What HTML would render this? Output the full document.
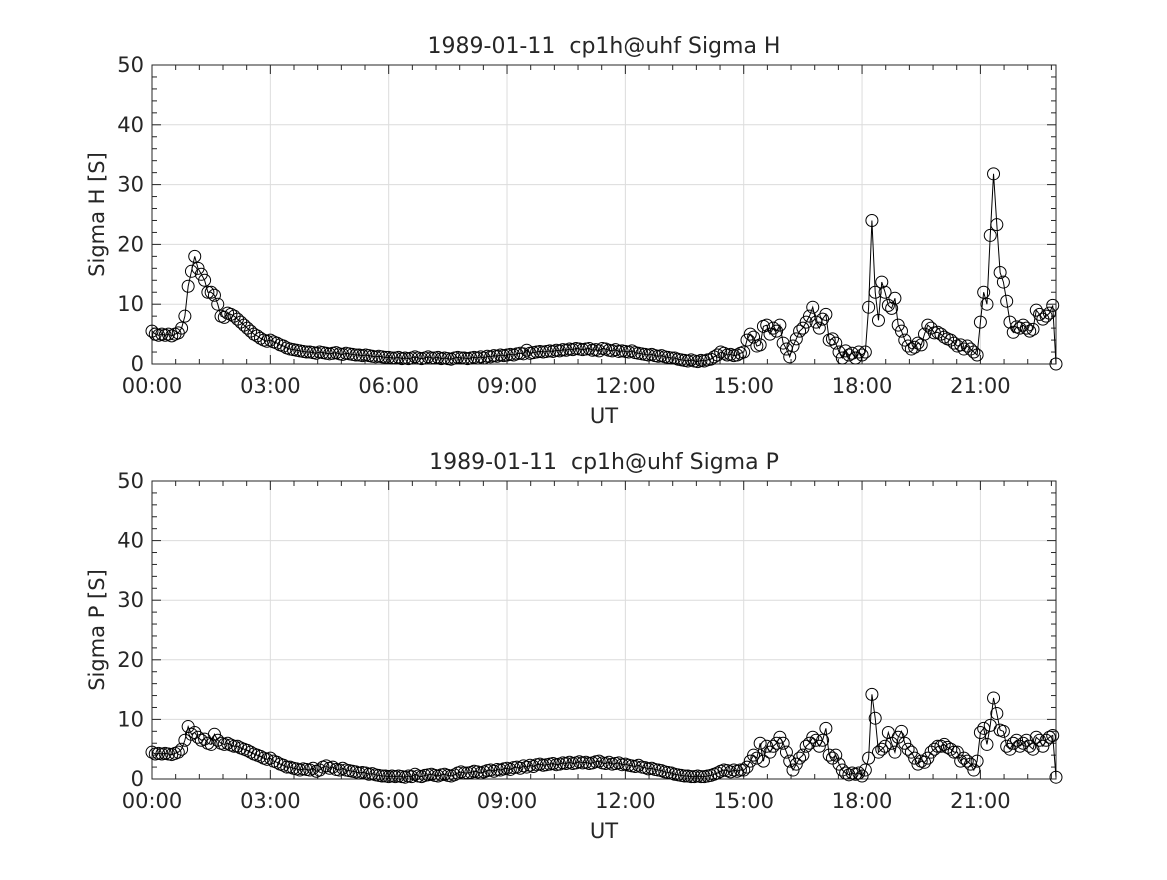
<!DOCTYPE html>
<html><head><meta charset="utf-8"><style>
html,body{margin:0;padding:0;background:#fff}
svg text{font-family:"DejaVu Sans","Liberation Sans",sans-serif;fill:#262626}
</style></head><body>
<svg id="svg" width="1167" height="875" xmlns="http://www.w3.org/2000/svg"></svg>
<script>
const sigmaH = [
5.5,5,4.8,5,4.8,5,4.7,5,5.2,6,8,13,
15.5,18,16,15,14,12,12,11.5,10,8,7.8,8.5,
8.3,8,7.5,7,6.5,6,5.5,5,4.7,4.3,4,3.8,
4,3.7,3.5,3.2,3,2.7,2.5,2.4,2.3,2.2,2.1,2,
2,1.9,1.8,2,1.9,1.8,1.7,1.8,1.9,1.7,1.6,1.8,
1.7,1.6,1.5,1.5,1.4,1.5,1.4,1.3,1.2,1.3,1.2,1.1,
1.1,1,1,1.1,0.9,1,0.9,1,1.2,1,0.9,1,
1.2,1,1,1.1,0.9,1,0.9,0.8,1,1.1,1,1,
0.9,1,1.1,1,1.2,1,1.3,1.2,1.4,1.3,1.5,1.4,
1.5,1.6,1.5,1.7,1.8,1.7,2.3,1.8,1.9,2,2.1,2,
2.1,2.2,2.1,2.3,2.2,2.4,2.3,2.5,2.4,2.6,2.5,2.4,
2.5,2.6,2.3,2.4,2.2,2.6,2.5,2.3,2.2,2.4,2.1,2.2,
2.1,2,2.2,1.9,1.8,1.7,1.6,1.5,1.6,1.4,1.3,1.4,
1.2,1.1,1,1,0.8,0.7,0.6,0.5,0.7,0.5,0.4,0.6,
0.5,0.7,0.8,1.2,1.5,2,1.8,1.5,1.6,1.4,1.5,1.8,
2,4,5,4.5,3,3.2,6.3,6.5,5,6,5.5,6.5,
3.5,2.5,1.2,3,4.2,5.5,6,7,8,9.5,7,6,
7.5,8.3,4,4.2,3.5,2,1,2.2,1.5,1.8,1,2,
1.5,2,9.5,24,12,7.3,13.7,12,9.8,9.3,11,6.5,
5.5,4,3,2.5,2.8,3.5,3.2,5,6.5,6,5.2,5.3,
5,4.5,4.2,4,3.5,3,3.2,2.5,3,2.5,2,1.5,
7,12,10,21.5,31.8,23.3,15.3,13.7,10.5,7,5.3,6.2,
6,6.5,6,5.5,5.8,9,8.3,7.5,8,8.5,9.8,0];
const sigmaP = [
4.5,4.2,4.3,4.2,4.3,4.2,4.1,4.3,4.5,5,6.5,8.8,
7.5,7.8,7,6.5,6.7,6,5.8,7.5,6.5,6,5.8,6,
5.7,5.5,5.5,5.2,5,4.8,4.5,4.2,4,3.8,3.5,3.3,
3.5,3,2.8,2.5,2.3,2,2,1.8,1.7,1.5,1.7,1.6,
1.5,1.8,1.3,1.5,2,2.2,1.8,2,1.6,1.5,1.8,1.5,
1.4,1.3,1.2,1,1.1,1,0.8,0.9,0.7,0.6,0.5,0.5,
0.4,0.5,0.4,0.5,0.4,0.3,0.5,0.4,0.8,0.5,0.4,0.6,
0.7,0.8,0.6,0.5,0.7,0.8,0.6,0.5,0.7,1,1.2,1,
1,1.1,1.3,1.2,1,1.2,1.4,1.5,1.3,1.6,1.5,1.7,
1.8,1.6,1.9,2,1.8,2.2,2,2.3,2.1,2.4,2.5,2.3,
2.4,2.5,2.6,2.4,2.5,2.7,2.6,2.8,2.6,2.7,2.9,2.7,
2.8,2.6,2.7,2.9,3,2.7,2.6,2.8,2.5,2.6,2.7,2.4,
2.5,2.3,2.2,2.1,2.3,2,1.9,1.7,1.8,1.6,1.5,1.4,
1.2,1.1,1,0.8,0.7,0.6,0.5,0.5,0.4,0.4,0.5,0.4,
0.4,0.5,0.6,0.8,1,1.3,1.5,1.4,1.2,1.5,1.3,1.5,
1.5,2,3,4,3.5,6,3,5.5,4.5,5.5,6,7,
6,4.5,3,1.5,2.5,3.5,4,5.5,6,7,6.5,5.5,
6.5,8.5,4,3.5,4,2.5,1.5,1,0.7,1,0.8,1,
0.5,1.5,3.5,14.2,10.2,4.5,5,5.5,7.8,6,4.5,7,
8,6,5,4.5,3.5,2.5,3,2.8,3.5,4.5,5,5.5,
5.5,5.8,5.3,5,4.5,4.5,3,3.5,3,2.5,1.5,3,
7.8,8.5,5.8,9,13.6,11,8.2,8,5.5,5,6,6.5,
5.5,6,6.5,5.5,5,7,6.5,5.5,6.5,7,7.3,0.3];
const xTickLabels = ["00:00","03:00","06:00","09:00","12:00","15:00","18:00","21:00"];
const yTickLabels = [0,10,20,30,40,50];
const stepMin = 5;

const NS="http://www.w3.org/2000/svg";
const svg=document.getElementById('svg');
function mk(tag,attrs,parent){const e=document.createElementNS(NS,tag);for(const k in attrs)e.setAttribute(k,attrs[k]);(parent||svg).appendChild(e);return e;}

function panel(top,bottom,data,title,ylab,key){
  const L=152,R=1056,xmax=(data.length-1)*stepMin/60;
  const g=mk('g',{});
  
  
  const X=h=>L+(h/xmax)*(R-L);
  const Y=v=>bottom-(v/50)*(bottom-top);
  for(let i=0;i<xTickLabels.length;i++){const x=X(i*3);mk('line',{x1:x,x2:x,y1:top,y2:bottom,stroke:'#dcdcdc','stroke-width':1},g);}
  yTickLabels.forEach(v=>{mk('line',{x1:L,x2:R,y1:Y(v),y2:Y(v),stroke:'#dcdcdc','stroke-width':1},g);});
  for(let h=0;h<=xmax+0.001;h+=0.6){const x=X(h);const maj=Math.abs(h/3-Math.round(h/3))<0.01;const len=maj?9:5;
    mk('line',{x1:x,x2:x,y1:bottom,y2:bottom-len,stroke:'#262626'},g);mk('line',{x1:x,x2:x,y1:top,y2:top+len,stroke:'#262626'},g);}
  for(let v=0;v<=50;v+=2){const y=Y(v);const len=v%10===0?9:5;
    mk('line',{x1:L,x2:L+len,y1:y,y2:y,stroke:'#262626'},g);mk('line',{x1:R,x2:R-len,y1:y,y2:y,stroke:'#262626'},g);}
  mk('rect',{x:L,y:top,width:R-L,height:bottom-top,fill:'none',stroke:'#262626','stroke-width':1},g);
  xTickLabels.forEach((t,i)=>{const e=mk('text',{x:X(i*3),y:bottom+29,'text-anchor':'middle','font-size':21},g);e.textContent=t;
    });
  yTickLabels.forEach(v=>{const e=mk('text',{x:L-8,y:Y(v)+7,'text-anchor':'end','font-size':21},g);e.textContent=v;
    });
  const xl=mk('text',{x:604,y:bottom+59,'text-anchor':'middle','font-size':21},g);xl.textContent='UT';
  
  const yl=mk('text',{x:0,y:0,'text-anchor':'middle','font-size':21,transform:`translate(104,${(top+bottom)/2}) rotate(-90)`},g);yl.textContent=ylab;
  
  const tt=mk('text',{x:604,y:top-12,'text-anchor':'middle','font-size':22},g);tt.textContent=title;
  
  const pts=data.map((v,i)=>[X(i*stepMin/60),Y(v)]);
  const pl=mk('polyline',{points:pts.map(p=>p.join(',')).join(' '),fill:'none',stroke:'#000','stroke-width':1},g);
  
  pts.forEach(p=>{const c=mk('circle',{cx:p[0],cy:p[1],r:6,fill:'none',stroke:'#000','stroke-width':1},g);
    });
}
panel(65,364,sigmaH,'1989-01-11\u00a0 cp1h@uhf Sigma H','Sigma H [S]','sigma-h');
panel(481,779,sigmaP,'1989-01-11\u00a0 cp1h@uhf Sigma P','Sigma P [S]','sigma-p');
</script>
</body></html>
